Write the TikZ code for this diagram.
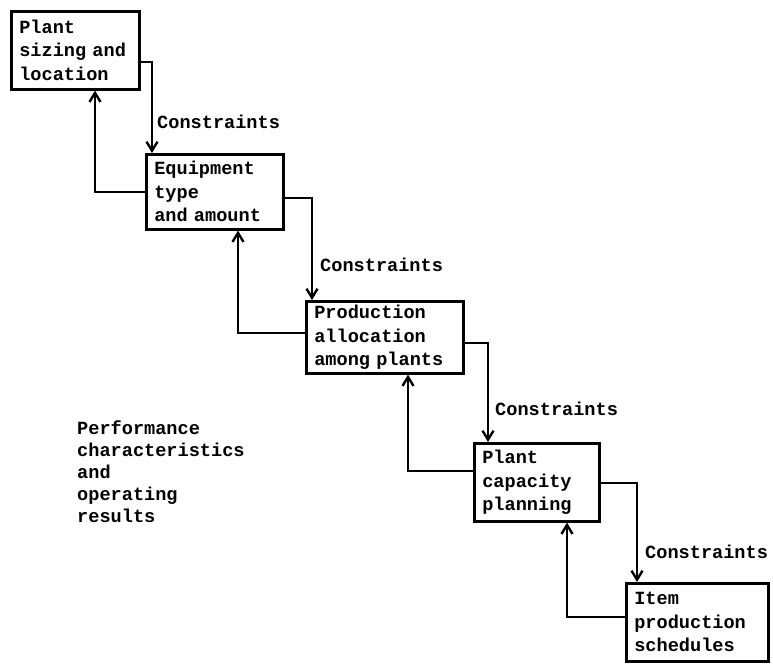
\documentclass[tikz,border=0pt]{standalone}
\usepackage{fontspec}
\setmonofont{Liberation Mono}
\usetikzlibrary{arrows.meta}

\newcommand{\typed}[1]{\ttfamily\bfseries\fontsize{18.6}{#1}\selectfont
  \spaceskip=0.6em\relax \xspaceskip=0.6em\relax}

\tikzset{
  stage/.style={draw, line width=2.6pt, anchor=north west, align=left,
    inner xsep=8pt, inner ysep=0pt, font=\typed{23.5}},
  note/.style={anchor=west, inner sep=0pt, font=\typed{22}},
  flow/.style={->, line width=2.6pt},
}

\begin{document}
\begin{tikzpicture}[x=1pt,y=-1pt,>={Straight Barb[length=9pt,width=11pt,line width=2.4pt]}]
  \useasboundingbox (0,0) rectangle (773,664);

  % the five planning levels
  \node[stage, text width=112pt, minimum height=78pt] (plant)  at (10,10)   {Plant\\sizing and\\location};
  \node[stage, text width=121pt, minimum height=75pt] (equip)  at (145,153) {Equipment\\type\\and amount};
  \node[stage, text width=141pt, minimum height=72pt] (alloc)  at (305,300) {Production\\allocation\\among plants};
  \node[stage, text width=109pt, minimum height=78pt] (cap)    at (473,442) {Plant\\capacity\\planning};
  \node[stage, text width=126pt, minimum height=78pt] (sched)  at (625,582) {Item\\production\\schedules};

  \node[note, anchor=north west, align=left] (perf) at (77,421)
       {Performance\\characteristics\\and\\operating\\results};

  % corners of the connectors
  \coordinate (d1) at (152,62);
  \coordinate (d2) at (312,198);
  \coordinate (d3) at (488,343);
  \coordinate (d4) at (637,483);
  \coordinate (u1) at (95,192);
  \coordinate (u2) at (238,333);
  \coordinate (u3) at (408,471);
  \coordinate (u4) at (567,617);

  % constraints passed down
  \draw[flow] (plant.east |- d1) -- (d1) -- (d1 |- equip.north);
  \draw[flow] (equip.east |- d2) -- (d2) -- (d2 |- alloc.north);
  \draw[flow] (alloc.east |- d3) -- (d3) -- (d3 |- cap.north);
  \draw[flow] (cap.east |- d4)   -- (d4) -- (d4 |- sched.north);

  % results passed up
  \draw[flow] (equip.west |- u1) -- (u1) -- (u1 |- plant.south);
  \draw[flow] (alloc.west |- u2) -- (u2) -- (u2 |- equip.south);
  \draw[flow] (cap.west |- u3)   -- (u3) -- (u3 |- alloc.south);
  \draw[flow] (sched.west |- u4) -- (u4) -- (u4 |- cap.south);

  \node[note] (c1) at (157,122) {Constraints};
  \node[note] (c2) at (320,265) {Constraints};
  \node[note] (c3) at (495,409) {Constraints};
  \node[note] (c4) at (645,552) {Constraints};
\end{tikzpicture}
\end{document}
